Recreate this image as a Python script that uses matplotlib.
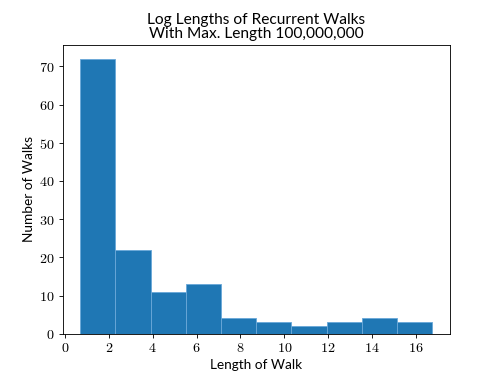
import numpy as np
import matplotlib
matplotlib.use("Agg")
import matplotlib.pyplot as plt

# histogram of log walk lengths (counts)
counts = [72, 22, 11, 13, 4, 3, 2, 3, 4, 3]
log_min = 0.69
log_max = 16.75
xticks = [0, 2, 4, 6, 8, 10, 12, 14, 16]
yticks = [0, 10, 20, 30, 40, 50, 60, 70]

plt.rcParams['font.family'] = ['Lato', 'DejaVu Sans']
plt.rcParams['mathtext.fontset'] = 'cm'

edges = np.linspace(log_min, log_max, len(counts) + 1)

fig, ax = plt.subplots(figsize=(6.4, 4.8), dpi=78.125)
ax.hist(edges[:-1], bins=edges, weights=counts, color='#1f77b4',
        edgecolor='#6aa8d8', linewidth=0.8)

ax.set_xticks(xticks)
ax.set_xticklabels([f'${v}$' for v in xticks], fontsize=13)
ax.set_yticks(yticks)
ax.set_yticklabels([f'${v}$' for v in yticks], fontsize=13)

ax.set_title('Log Lengths of Recurrent Walks\nWith Max. Length 100,000,000',
             fontsize=14.3, linespacing=1.05)
ax.set_xlabel('Length of Walk', fontsize=12.5)
ax.set_ylabel('Number of Walks', fontsize=12.5)

fig.savefig('out.png')
